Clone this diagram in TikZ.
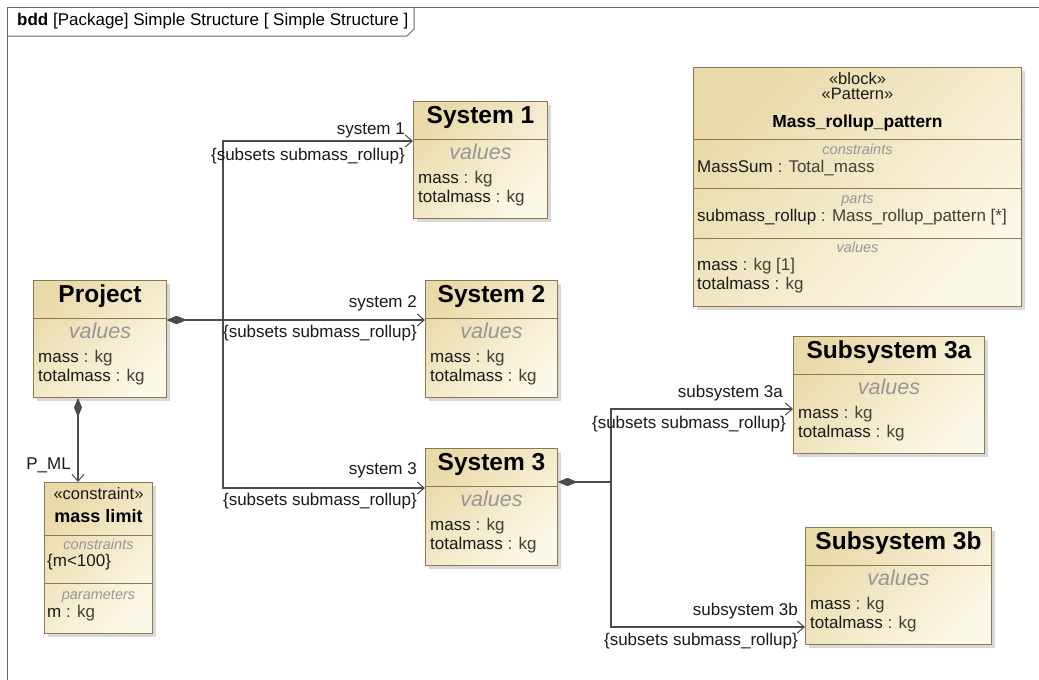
\documentclass[tikz,border=0pt]{standalone}
\usepackage{fontspec}
\setmainfont{Liberation Sans}
\usetikzlibrary{arrows.meta,shadows}
\definecolor{tanA}{RGB}{234,218,170}
\definecolor{tanB}{RGB}{253,249,232}
\definecolor{bord}{RGB}{140,120,85}
\definecolor{lnk}{RGB}{75,75,75}
\definecolor{grayt}{RGB}{150,150,150}
\definecolor{itemc}{RGB}{25,25,25}
\definecolor{typec}{RGB}{70,62,52}
\definecolor{framec}{RGB}{105,105,105}
\tikzset{
 blk/.style={rectangle, draw=bord, line width=1pt, top color=tanA, bottom color=tanB, shading angle=45,
   drop shadow={shadow xshift=3pt, shadow yshift=-3pt, fill=black!30}, inner sep=0, anchor=north west},
 sep/.style={draw=bord, line width=1pt},
 bname/.style={font=\fontsize{24.5}{28}\selectfont\bfseries, text=black, inner sep=0, anchor=mid},
 sname/.style={font=\fontsize{17.4}{20}\selectfont\bfseries, text=black, inner sep=0, anchor=mid},
 vlab/.style={font=\fontsize{21.5}{24}\selectfont\itshape, text=grayt, inner sep=0, anchor=mid},
 item/.style={font=\fontsize{17}{19}\selectfont, text=itemc, inner sep=0, anchor=mid west},
 clab/.style={font=\fontsize{14.5}{17}\selectfont\itshape, text=grayt, inner sep=0, anchor=mid},
 ster/.style={font=\fontsize{16.5}{18}\selectfont, text=itemc, inner sep=0, anchor=mid},
 elab/.style={font=\fontsize{17}{19}\selectfont, text=itemc, inner sep=0, anchor=mid east},
 conn/.style={draw=lnk, line width=1.2pt},
 arr/.style={conn, arrows={Diamond[length=19pt,width=8pt,fill=lnk]-Straight Barb[length=7pt,width=12pt,line width=1pt]}},
}
\newcommand\tyc[1]{{\color{typec}#1}}
\newcommand\mkvblock[5]{% name, x, y, width, title
 \node[blk, minimum width=#4pt, minimum height=117pt] (#1) at (#2,#3) {};
 \draw[sep] ([yshift=-38pt]#1.north west) -- ([yshift=-38pt]#1.north east);
 \node[bname] (#1-t) at ([yshift=-20pt]#1.north) {#5};
 \node[vlab] (#1-v) at ([yshift=-56pt]#1.north) {values};
 \node[item] (#1-m) at ([xshift=5pt,yshift=-79.6pt]#1.north west) {mass \tyc{: kg}};
 \node[item] (#1-tm) at ([xshift=5pt,yshift=-98.6pt]#1.north west) {totalmass \tyc{: kg}};
}
\begin{document}
\begin{tikzpicture}[x=1pt,y=-1pt]
\useasboundingbox (0,0) rectangle (1039,680);
\fill[white] (0,0) rectangle (1039,680);
\clip (0,0) rectangle (1039,680);
% frame
\draw[framec, line width=1pt] (7,7) rectangle (1060,700);
\draw[framec, line width=1pt] (7,36) -- (407,36) -- (414,29) -- (414,7);
\node[font=\fontsize{17}{19}\selectfont, inner sep=0, anchor=mid west] (title) at (17,23)
  {\textbf{bdd} [Package] Simple Structure [ Simple Structure ]};

% blocks
\mkvblock{Project}{33}{280}{133}{Project}
\mkvblock{S1}{413}{101}{134}{System 1}
\mkvblock{S2}{425}{280}{132}{System 2}
\mkvblock{S3}{425}{448}{132}{System 3}
\mkvblock{SA}{793}{336}{191}{Subsystem 3a}
\mkvblock{SB}{805}{527}{186}{Subsystem 3b}

% constraint block
\node[blk, minimum width=108pt, minimum height=151pt] (ML) at (44,482) {};
\draw[sep] ([yshift=-53pt]ML.north west) -- ([yshift=-53pt]ML.north east);
\draw[sep] ([yshift=-101pt]ML.north west) -- ([yshift=-101pt]ML.north east);
\node[ster] (ML-s) at ([yshift=-15pt]ML.north) {«constraint»};
\node[font=\fontsize{18}{20}\selectfont\bfseries, inner sep=0, anchor=mid] (ML-t) at ([yshift=-38pt]ML.north) {mass limit};
\node[clab] (ML-c) at ([yshift=-65pt]ML.north) {constraints};
\node[item] (ML-ci) at ([xshift=3pt,yshift=-82pt]ML.north west) {\{m<100\}};
\node[clab] (ML-p) at ([yshift=-115pt]ML.north) {parameters};
\node[item] (ML-pi) at ([xshift=3pt,yshift=-133pt]ML.north west) {m \tyc{: kg}};

% pattern block
\node[blk, minimum width=328pt, minimum height=239pt] (MRP) at (693,67) {};
\draw[sep] ([yshift=-72pt]MRP.north west) -- ([yshift=-72pt]MRP.north east);
\draw[sep] ([yshift=-121pt]MRP.north west) -- ([yshift=-121pt]MRP.north east);
\draw[sep] ([yshift=-171pt]MRP.north west) -- ([yshift=-171pt]MRP.north east);
\node[ster] (MRP-s1) at ([yshift=-15pt]MRP.north) {«block»};
\node[ster] (MRP-s2) at ([yshift=-30pt]MRP.north) {«Pattern»};
\node[sname] (MRP-t) at ([yshift=-57.5pt]MRP.north) {Mass\_rollup\_pattern};
\node[clab] (MRP-c) at ([yshift=-85pt]MRP.north) {constraints};
\node[item] (MRP-ci) at ([xshift=4pt,yshift=-103pt]MRP.north west) {MassSum \tyc{: Total\_mass}};
\node[clab] (MRP-p) at ([yshift=-134pt]MRP.north) {parts};
\node[item] (MRP-pi) at ([xshift=4pt,yshift=-152pt]MRP.north west) {submass\_rollup \tyc{: Mass\_rollup\_pattern [*]}};
\node[clab] (MRP-v) at ([yshift=-183pt]MRP.north) {values};
\node[item] (MRP-v1) at ([xshift=4pt,yshift=-201pt]MRP.north west) {mass \tyc{: kg [1]}};
\node[item] (MRP-v2) at ([xshift=4pt,yshift=-220pt]MRP.north west) {totalmass \tyc{: kg}};

% connectors
\draw[arr] ([yshift=-40pt]Project.north east) -- ++(56,0) |- ([yshift=-40pt]S1.north west);
\draw[arr] ([yshift=-40pt]Project.north east) -- ([yshift=-40pt]S2.north west);
\draw[arr] ([yshift=-40pt]Project.north east) -- ++(56,0) |- ([yshift=-40pt]S3.north west);
\draw[arr] ([yshift=-34pt]S3.north east) -- ++(53,0) |- ([yshift=-73pt]SA.north west);
\draw[arr] ([yshift=-34pt]S3.north east) -- ++(53,0) |- ([yshift=-100pt]SB.north west);
\draw[arr] ([xshift=45pt]Project.south west) -- ([xshift=34pt]ML.north west);

% connector labels
\node[elab] (l1a) at (405,132) {system 1};
\node[elab] (l1b) at (405,158) {\{subsets submass\_rollup\}};
\node[elab] (l2a) at (417,305) {system 2};
\node[elab] (l2b) at (417,335) {\{subsets submass\_rollup\}};
\node[elab] (l3a) at (417,472) {system 3};
\node[elab] (l3b) at (417,503) {\{subsets submass\_rollup\}};
\node[elab] (lAa) at (783,395) {subsystem 3a};
\node[elab] (lAb) at (786,426) {\{subsets submass\_rollup\}};
\node[elab] (lBa) at (798,613) {subsystem 3b};
\node[elab] (lBb) at (798,643) {\{subsets submass\_rollup\}};
\node[elab] (lPM) at (71,467) {P\_ML};
\end{tikzpicture}
\end{document}
